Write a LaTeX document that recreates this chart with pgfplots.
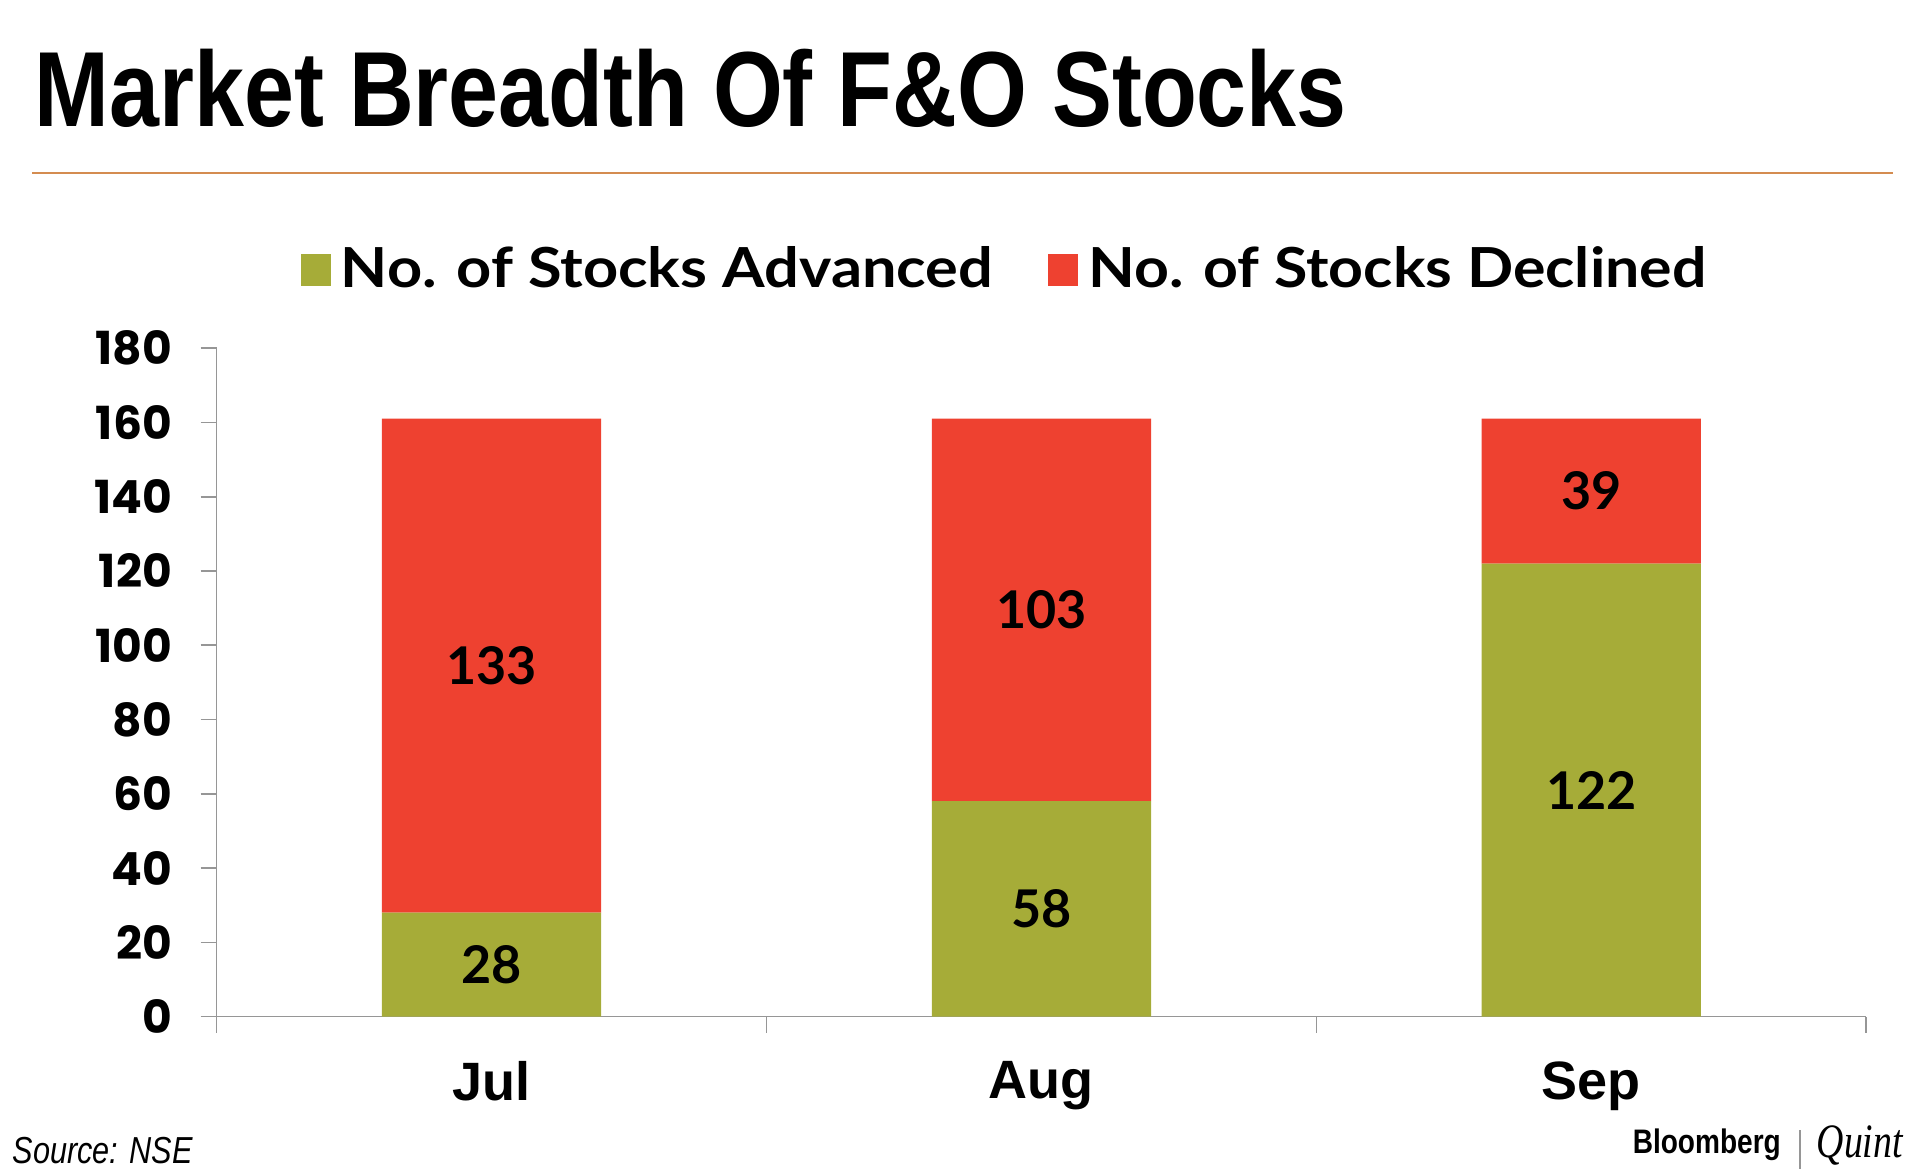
\documentclass[border=0pt]{standalone}
\usepackage{pgfplots}
\pgfplotsset{compat=1.18}
\usepackage{pgfplotstable}
\usepackage{graphicx}
\usepackage{fontspec}
\setmainfont{Liberation Sans}
\newfontfamily\numfont{Poppins}
\newfontfamily\labfont{Lato}
\newfontfamily\seriffont{Liberation Serif}

\definecolor{advcol}{RGB}{166,172,56}
\definecolor{deccol}{RGB}{238,65,48}
\definecolor{axgray}{RGB}{150,150,150}
\definecolor{rulecol}{RGB}{212,140,80}

% month, advanced, declined
\pgfplotstableread{
x adv dec
0 28 133
1 58 103
2 122 39
}\breadth

\begin{document}
\begin{tikzpicture}
\path[use as bounding box] (0,0) rectangle (480pt,293.5pt);

% title and rule
\node[anchor=base west, inner sep=0pt] at (8.5pt,261.8pt)
  {\resizebox{328pt}{\height}{\fontsize{26.7}{30}\selectfont\bfseries Market Breadth Of F\&O Stocks}};
\draw[rulecol, line width=0.5pt] (8pt,250.25pt) -- (473.25pt,250.25pt);

\begin{axis}[
  at={(54.15pt,39.35pt)}, anchor=south west,
  scale only axis, width=412.4pt, height=167.1pt,
  ybar stacked, bar width=54.8pt,
  xmin=-0.5, xmax=2.5, ymin=0, ymax=180,
  axis x line*=bottom, axis y line*=left,
  axis line style={axgray, line width=0.4pt, -},
  ytick={0,20,...,180},
  xtick={0,1,2}, xticklabels={Jul,Aug,Sep},
  minor xtick={-0.5,0.5,1.5,2.5},
  tick align=outside,
  major tick length=4pt, minor tick length=4pt,
  tick style={axgray, line width=0.4pt},
  major x tick style={draw=none},
  /pgf/number format/assume math mode=true,
  yticklabel style={font=\numfont\bfseries\fontsize{11.4}{12}\selectfont, inner sep=0pt, xshift=-7pt},
  xticklabel style={font=\bfseries\fontsize{13.5}{14}\selectfont, inner sep=0pt, yshift=-7pt},
  point meta=explicit,
  nodes near coords,
  every node near coord/.append style={anchor=center,
    font=\labfont\bfseries\fontsize{13}{14}\selectfont, text=black},
  legend style={at={(axis description cs:0.0506,1.117)}, anchor=west,
    legend columns=2, draw=none, fill=none, inner sep=0pt,
    /tikz/every even column/.append style={column sep=11.4pt},
    nodes={inner sep=2.5pt}},
]
\addplot[fill=advcol, draw=none,
  legend image code/.code={\fill[advcol] (0pt,-4pt) rectangle (7.5pt,4pt);}]
  table[x=x, y=adv, meta=adv] {\breadth};
\addlegendentry{\resizebox{163pt}{\height}{\labfont\bfseries\fontsize{13.8}{15}\selectfont No. of Stocks Advanced}}
\addplot[fill=deccol, draw=none,
  legend image code/.code={\fill[deccol] (0pt,-4pt) rectangle (7.5pt,4pt);}]
  table[x=x, y=dec, meta=dec] {\breadth};
\addlegendentry{\resizebox{154.5pt}{\height}{\labfont\bfseries\fontsize{13.8}{15}\selectfont No. of Stocks Declined}}
\end{axis}

% footer
\node[anchor=base west, inner sep=0pt] at (3pt,2.5pt)
  {\resizebox{45pt}{\height}{\fontsize{9.4}{10}\selectfont\itshape Source: NSE}};
\node[anchor=base west, inner sep=0pt] at (408pt,5pt)
  {\resizebox{37pt}{\height}{\fontsize{8.5}{9}\selectfont\bfseries Bloomberg}};
\draw[axgray, line width=0.4pt] (450pt,1.25pt) -- (450pt,11pt);
\node[anchor=base west, inner sep=0pt] at (454pt,4pt)
  {\resizebox{21.5pt}{\height}{\seriffont\fontsize{12}{13}\selectfont\itshape Quint}};
\end{tikzpicture}
\end{document}
